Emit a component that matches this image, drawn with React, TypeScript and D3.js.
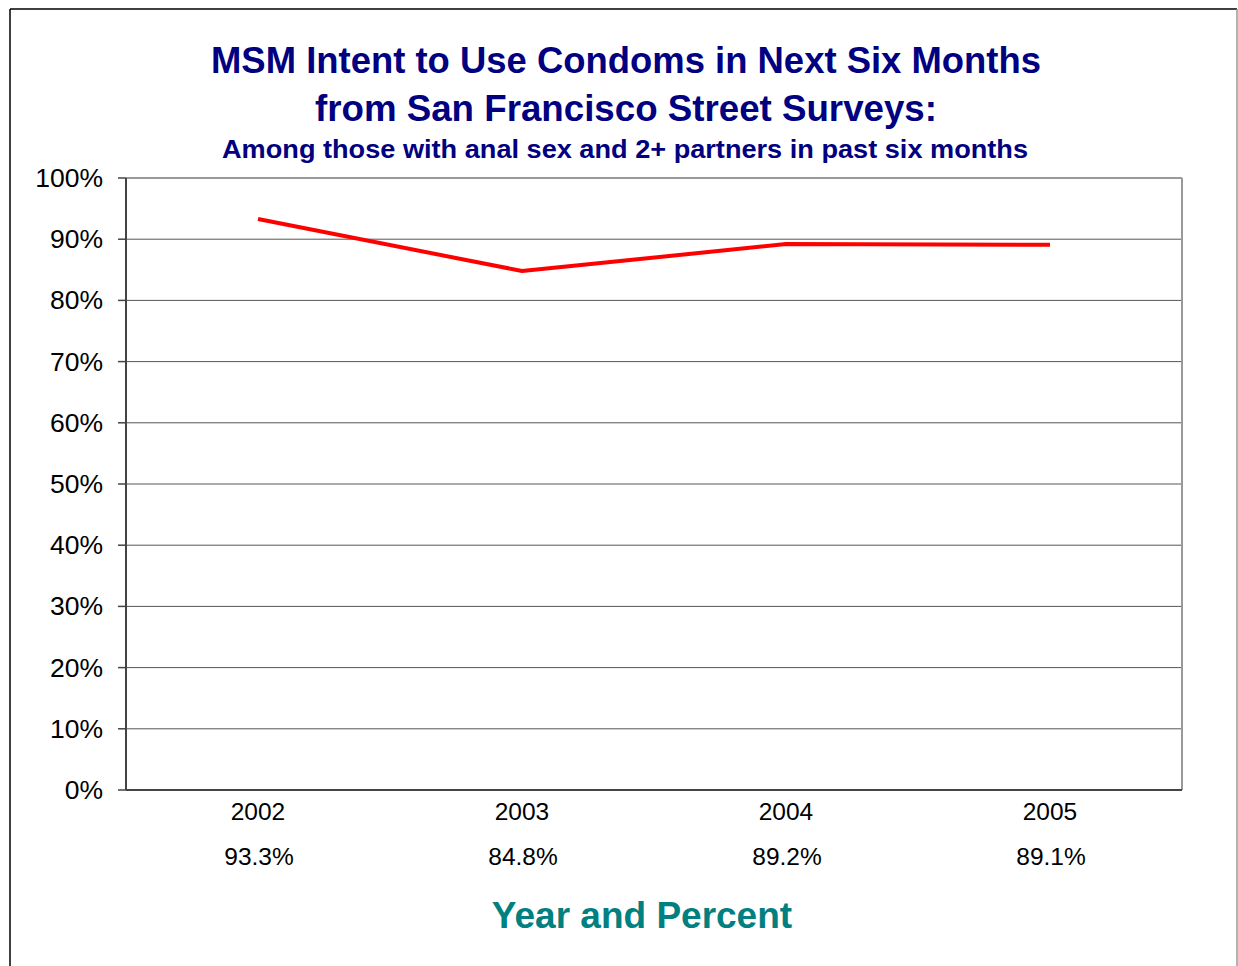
import React from "react";
import * as d3 from "d3";

const years = ["2002", "2003", "2004", "2005"];
const values = [93.3, 84.8, 89.2, 89.1];
const yTicks = [0, 10, 20, 30, 40, 50, 60, 70, 80, 90, 100];

export default function App() {
  const W = 1238, H = 966;
  const left = 126, right = 1182, top = 178, bottom = 790;
  const x = d3.scaleBand<string>().domain(years).range([left, right]);
  const y = d3.scaleLinear().domain([0, 100]).range([bottom, top]);
  const line = d3.line<number>()
    .x((_, i) => (x(years[i]) as number) + x.bandwidth() / 2)
    .y((d) => y(d));
  const font = "Liberation Sans, Arial, sans-serif";
  return (
    <svg width={W} height={H} style={{ position: "absolute", left: 0, top: 0 }}>
      <rect x={0} y={0} width={W} height={H} fill="#fff" />
      <line x1={10} y1={9} x2={10} y2={H} stroke="#000" strokeWidth={1.5} />
      <line x1={10} y1={9} x2={1237} y2={9} stroke="#000" strokeWidth={1.5} />
      <line x1={1237} y1={9} x2={1237} y2={H} stroke="#999" strokeWidth={1.5} />
      <g fontFamily={font} fontWeight="bold" fill="#000080" textAnchor="middle">
        <text x={626} y={73} fontSize={36} textLength={830} lengthAdjust="spacingAndGlyphs">MSM Intent to Use Condoms in Next Six Months</text>
        <text x={626} y={121} fontSize={36} textLength={622} lengthAdjust="spacingAndGlyphs">from San Francisco Street Surveys:</text>
        <text x={625} y={158} fontSize={26} textLength={806} lengthAdjust="spacingAndGlyphs">Among those with anal sex and 2+ partners in past six months</text>
      </g>
      {yTicks.map((t) => (
        <g key={t}>
          {t > 0 && t < 100 && (
            <line x1={left} x2={right} y1={y(t)} y2={y(t)} stroke="#555" strokeWidth={1} />
          )}
          <line x1={118} x2={left} y1={y(t)} y2={y(t)} stroke="#444" strokeWidth={1.5} />
          <text x={103} y={y(t) + 9} fontFamily={font} fontSize={26.5} textAnchor="end" fill="#000">{t}%</text>
        </g>
      ))}
      <line x1={left} x2={right} y1={top} y2={top} stroke="#999" strokeWidth={2} />
      <line x1={right} x2={right} y1={top} y2={bottom} stroke="#999" strokeWidth={2} />
      <line x1={left} x2={left} y1={top} y2={bottom} stroke="#444" strokeWidth={2} />
      <line x1={left} x2={right} y1={bottom} y2={bottom} stroke="#444" strokeWidth={2} />
      <path d={line(values) || ""} fill="none" stroke="#ff0000" strokeWidth={4} strokeLinejoin="round" />
      {years.map((yr, i) => {
        const cx = (x(yr) as number) + x.bandwidth() / 2;
        return (
          <g key={yr} fontFamily={font} fontSize={24.5} textAnchor="middle" fill="#000">
            <text x={cx} y={820}>{yr}</text>
            <text x={cx + 1} y={865}>{values[i].toFixed(1)}%</text>
          </g>
        );
      })}
      <text x={642} y={928} fontFamily={font} fontSize={37} fontWeight="bold" fill="#008080" textAnchor="middle">Year and Percent</text>
    </svg>
  );
}
